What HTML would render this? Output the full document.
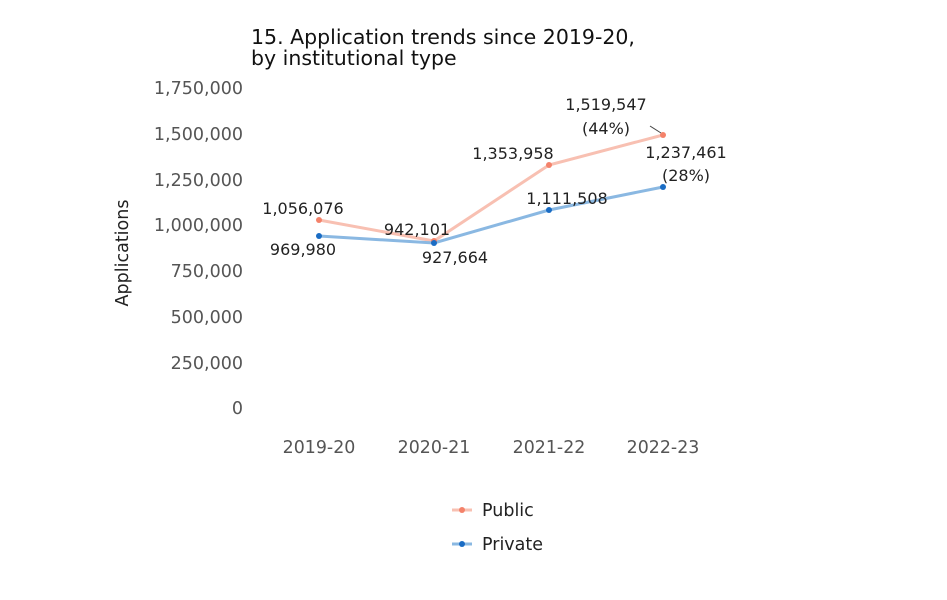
<!DOCTYPE html>
<html><head><meta charset="utf-8"><style>
html,body{margin:0;padding:0;background:#fff;}
svg{display:block;font-family:"DejaVu Sans","Liberation Sans",sans-serif;}
</style></head><body>
<svg width="947" height="600" viewBox="0 0 947 600" xmlns="http://www.w3.org/2000/svg">
<rect width="947" height="600" fill="#fff"/>
<text x="251" y="44" font-size="20.5" fill="#111">15. Application trends since 2019-20,</text>
<text x="251" y="65" font-size="20.5" fill="#111">by institutional type</text>
<g font-size="17.5" fill="#555" text-anchor="end">
<text x="243" y="94">1,750,000</text>
<text x="243" y="140">1,500,000</text>
<text x="243" y="186">1,250,000</text>
<text x="243" y="231">1,000,000</text>
<text x="243" y="277">750,000</text>
<text x="243" y="323">500,000</text>
<text x="243" y="369">250,000</text>
<text x="243" y="414">0</text>
</g>
<text transform="translate(128,253) rotate(-90)" font-size="17.5" fill="#222" text-anchor="middle">Applications</text>
<g font-size="17.4" fill="#555" text-anchor="middle">
<text x="319" y="453">2019-20</text>
<text x="434" y="453">2020-21</text>
<text x="549" y="453">2021-22</text>
<text x="663" y="453">2022-23</text>
</g>
<polyline points="319,220 434,241 549,165 663,135" fill="none" stroke="#f8c0b2" stroke-width="3"/>
<polyline points="319,236 434,243 549,210 663,187" fill="none" stroke="#8ab8e2" stroke-width="3"/>
<g fill="#f4826a"><circle cx="319" cy="220" r="3"/><circle cx="434" cy="241" r="3"/><circle cx="549" cy="165" r="3"/><circle cx="663" cy="135" r="3"/></g>
<g fill="#1a6cc4"><circle cx="319" cy="236" r="3"/><circle cx="434" cy="243" r="3"/><circle cx="549" cy="210" r="3"/><circle cx="663" cy="187" r="3"/></g>
<line x1="650" y1="126" x2="661" y2="133" stroke="#444" stroke-width="1"/>
<g font-size="16" fill="#222" text-anchor="middle">
<text x="303" y="214">1,056,076</text>
<text x="303" y="255">969,980</text>
<text x="417" y="235">942,101</text>
<text x="455" y="263">927,664</text>
<text x="513" y="159">1,353,958</text>
<text x="567" y="204">1,111,508</text>
<text x="606" y="110">1,519,547</text>
<text x="606" y="134">(44%)</text>
<text x="686" y="158">1,237,461</text>
<text x="686" y="181">(28%)</text>
</g>
<line x1="452" y1="510" x2="472" y2="510" stroke="#f8c0b2" stroke-width="3"/>
<circle cx="462" cy="510" r="3" fill="#f4826a"/>
<text x="482" y="516" font-size="17.5" fill="#222">Public</text>
<line x1="452" y1="544" x2="472" y2="544" stroke="#8ab8e2" stroke-width="3"/>
<circle cx="462" cy="544" r="3" fill="#1a6cc4"/>
<text x="482" y="550" font-size="17.5" fill="#222">Private</text>
</svg>
</body></html>
